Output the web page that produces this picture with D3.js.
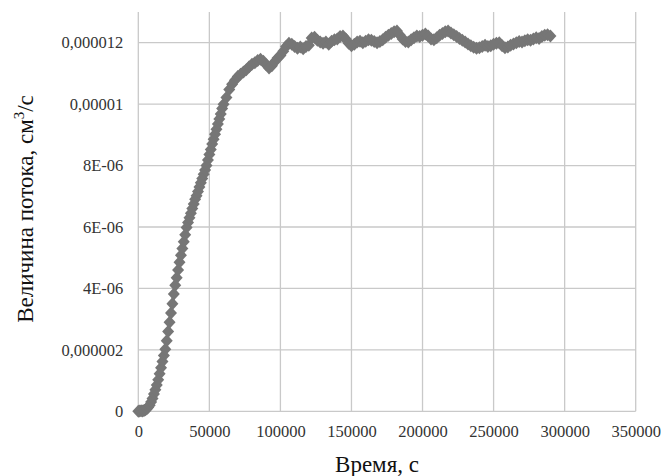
<!DOCTYPE html>
<meta charset="utf-8">
<html>
<head>
<title>flux vs time</title>
<style>
body { margin: 0; background: #fff; }
svg.chart text, svg.chart tspan { font-family: "Liberation Serif", serif !important; }
</style>
</head>
<body>
<svg class="chart" width="664" height="476"></svg>

<script src="https://cdn.jsdelivr.net/npm/d3@7/dist/d3.min.js"></script>
<script>

// time, s (thousands)
const timeK = [
0,1,2,3,4,5,6,7,8,9,10,11,12,13,14,15,16,17,18,19,20,21,22,23,24,25,26,27,28,29,
30,31,32,33,34,35,36,37,38,39,40,41,42,43,44,45,46,47,48,49,50,51,52,53,54,55,56,57,58,59,
60,62,64,66,68,70,72,74,76,78,80,82,84,86,88,90,92,94,96,98,
100,102,104,106,108,110,112,114,116,118,120,122,124,126,128,130,132,134,136,138,
140,142,144,146,148,150,152,154,156,158,160,162,164,166,168,170,172,174,176,178,
180,182,184,186,188,190,192,194,196,198,200,202,204,206,208,210,212,214,216,218,
220,222,224,226,228,230,232,234,236,238,240,242,244,246,248,250,252,254,256,258,
260,262,264,266,268,270,272,274,276,278,280,282,284,286,288,290
]

// flux, 1e-6 cm3/s
const fluxMicro = [
0,0.01,0.02,0.01,0.03,0.05,0.08,0.13,0.2,0.3,0.42,0.56,0.7,0.86,1.03,1.22,1.42,1.62,1.82,2.02,
2.3,2.6,2.9,3.2,3.5,3.82,4.1,4.35,4.6,4.85,
5.08,5.3,5.52,5.75,5.98,6.15,6.3,6.45,6.6,6.75,6.9,7.02,7.16,7.3,7.44,7.58,7.72,7.86,8.0,8.18,
8.36,8.52,8.7,8.86,9.02,9.18,9.35,9.52,9.68,9.86,
10.0,10.22,10.48,10.65,10.78,10.9,10.97,11.05,11.12,11.22,11.3,11.35,11.42,11.46,11.4,11.28,11.18,11.25,11.38,11.5,
11.58,11.72,11.88,11.98,11.95,11.88,11.82,11.86,11.8,11.88,11.92,12.15,12.18,12.08,12.02,11.98,12.02,11.95,12.05,12.1,
12.12,12.2,12.22,12.12,11.98,11.9,11.95,12.02,12.05,12.0,12.05,12.1,12.08,12.04,12.0,12.04,12.1,12.18,12.24,12.3,
12.36,12.38,12.25,12.12,12.04,12.02,12.1,12.16,12.22,12.2,12.24,12.28,12.22,12.12,12.1,12.16,12.24,12.3,12.36,12.38,
12.32,12.26,12.2,12.14,12.08,12.02,11.96,11.9,11.85,11.82,11.84,11.88,11.92,11.88,11.9,11.95,11.98,12.0,11.9,11.84,
11.86,11.92,11.96,12.0,12.04,12.02,12.06,12.1,12.08,12.12,12.16,12.14,12.2,12.24,12.26,12.22
]

const xTicks = [0, 50000, 100000, 150000, 200000, 250000, 300000, 350000]
const yTicks = [0, 2e-6, 4e-6, 6e-6, 8e-6, 1e-5, 1.2e-5]
const yTickLabels = ["0", "0,000002", "4E-06", "6E-06", "8E-06", "0,00001", "0,000012"]

const data = timeK.map((t, i) => ({ t: t * 1000, v: fluxMicro[i] * 1e-6 }))

const svg = d3.select("svg.chart")
const plotL = 138.3, plotR = 635.7, plotT = 12, plotB = 411.3

const x = d3.scaleLinear().domain([0, 350000]).range([plotL, plotR])
const y = d3.scaleLinear().domain([0, 1.3e-5]).range([plotB, plotT])

// gridlines
svg.append("g")
  .selectAll("line")
  .data(xTicks)
  .join("line")
  .attr("x1", (d) => x(d)).attr("x2", (d) => x(d))
  .attr("y1", plotT).attr("y2", plotB)
  .attr("stroke", "#c9c9c9").attr("stroke-width", 1.3)

svg.append("g")
  .selectAll("line")
  .data(yTicks)
  .join("line")
  .attr("x1", plotL).attr("x2", plotR)
  .attr("y1", (d) => y(d)).attr("y2", (d) => y(d))
  .attr("stroke", "#c9c9c9").attr("stroke-width", 1.3)

// axes (labels only)
const xAxis = svg.append("g")
  .attr("transform", "translate(0," + plotB + ")")
  .call(d3.axisBottom(x).tickValues(xTicks).tickFormat(d3.format("d")).tickSize(0).tickPadding(14))
  .attr("font-family", null).attr("font-size", 16.5)
xAxis.select(".domain").remove()

const yAxis = svg.append("g")
  .attr("transform", "translate(" + plotL + ",0)")
  .call(d3.axisLeft(y).tickValues(yTicks).tickFormat((d, i) => yTickLabels[i]).tickSize(0).tickPadding(15))
  .attr("font-family", null).attr("font-size", 16.5)
yAxis.select(".domain").remove()

svg.selectAll(".tick text").attr("fill", "#333")

// series
const line = d3.line().x((d) => x(d.t)).y((d) => y(d.v))
svg.append("path")
  .datum(data)
  .attr("d", line)
  .attr("fill", "none")
  .attr("stroke", "#767676")
  .attr("stroke-width", 3)

svg.append("g")
  .selectAll("path")
  .data(data)
  .join("path")
  .attr("transform", (d) => "translate(" + x(d.t) + "," + y(d.v) + ")")
  .attr("d", "M0,-6.5L6,0L0,6.5L-6,0Z")
  .attr("fill", "#767676")

// titles
svg.append("text")
  .attr("font-size", 23)
  .attr("fill", "#111")
  .attr("x", 377).attr("y", 472)
  .attr("text-anchor", "middle")
  .text("Время, с")

const yt = svg.append("text")
  .attr("font-size", 23)
  .attr("fill", "#111")
  .attr("transform", "translate(33,209) rotate(-90)")
  .attr("text-anchor", "middle")
yt.append("tspan").text("Величина потока, см")
yt.append("tspan").attr("dy", -9).attr("font-size", 15).text("3")
yt.append("tspan").attr("dy", 9).text("/с")

svg.selectAll("text").style("font-family", "'Liberation Serif', serif", "important")

</script>
</body>
</html>
